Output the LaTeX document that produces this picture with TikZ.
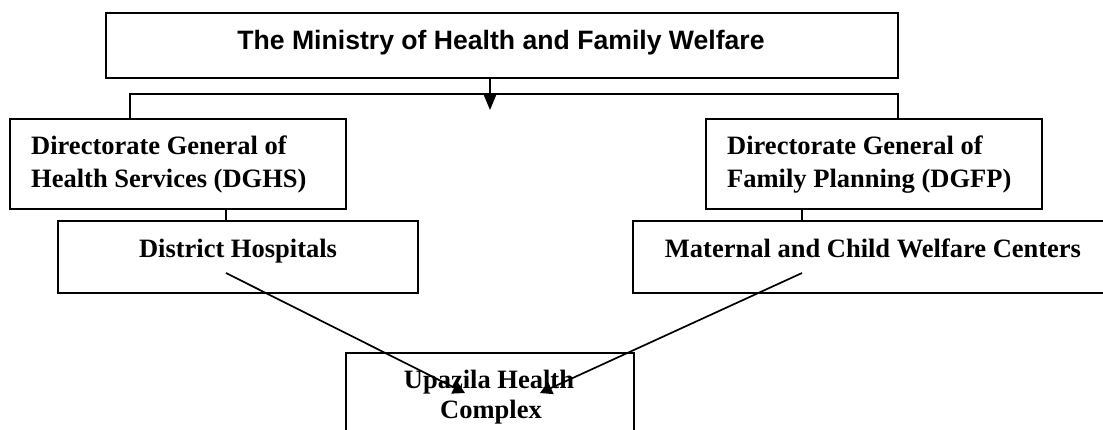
\documentclass[tikz,border=0pt]{standalone}
\usepackage{fontspec}
\setmainfont{Liberation Serif}
\newfontfamily\arialfont{Liberation Sans}
\usetikzlibrary{arrows.meta}
\tikzset{
  box/.style={draw=black, line width=1.7pt, rectangle, inner sep=0pt, outer sep=0pt, fill=white},
  conn/.style={draw=black, line width=1.7pt},
  arr/.style={conn, -{Triangle[width=12pt,length=15pt]}},
  arrd/.style={conn, -{Triangle[width=13pt,length=12pt]}},
  titletxt/.style={inner sep=0pt, font=\arialfont\bfseries\fontsize{26.6}{30}\selectfont},
  txt/.style={inner sep=0pt, font=\bfseries\fontsize{26.5}{32}\selectfont}
}
\begin{document}
\begin{tikzpicture}[x=1pt, y=-1pt]
\useasboundingbox (0,0) rectangle (1103,429);
\clip (0,0) rectangle (1103,429);
\fill[white] (0,0) rectangle (1103,429);
% boxes
\node[box, minimum width=792pt, minimum height=65pt] (ministry) at (502,45.5) {};
\node[box, minimum width=336pt, minimum height=90pt] (dghs) at (178,164) {};
\node[box, minimum width=336pt, minimum height=90pt] (dgfp) at (874,164) {};
\node[box, minimum width=360pt, minimum height=72pt] (dh) at (238,257) {};
\node[box, minimum width=480pt, minimum height=72pt] (mcwc) at (873,257) {};
\node[box, minimum width=288pt, minimum height=97pt] (uhc) at (490,401.5) {};
% connector coordinates
\coordinate (barL) at (130,94);
\coordinate (barR) at (898,94);
\coordinate (tip) at (490,110);
\coordinate (dhs) at (226,273);
\coordinate (mcs) at (802,273);
\coordinate (uhcL) at (465,393);
\coordinate (uhcR) at (540,393);
% connectors
\draw[conn] (barL |- dghs.north) -- (barL) -- (barR) -- (barR |- dgfp.north);
\draw[arr] (ministry.south -| tip) -- (tip);
\draw[conn] (dghs.south -| dhs) -- (dh.north -| dhs);
\draw[conn] (dgfp.south -| mcs) -- (mcwc.north -| mcs);
% texts
\node[titletxt, anchor=base] (ttitle) at (501,49) {The Ministry of Health and Family Welfare};
\node[txt, anchor=base west] (tdghs1) at (31,154) {Directorate General of};
\node[txt, anchor=base west] (tdghs2) at (31,187) {Health Services (DGHS)};
\node[txt, anchor=base west] (tdgfp1) at (727,154) {Directorate General of};
\node[txt, anchor=base west] (tdgfp2) at (727,187) {Family Planning (DGFP)};
\node[txt, anchor=base] (tdh) at (238,257) {District Hospitals};
\node[txt, anchor=base] (tmcwc) at (873,257) {Maternal and Child Welfare Centers};
\node[txt, anchor=base] (tuhc1) at (489,388) {Upazila Health};
\node[txt, anchor=base] (tuhc2) at (491,418) {Complex};
% diagonal arrows
\draw[arrd] (dhs) -- (uhcL);
\draw[arrd] (mcs) -- (uhcR);
\end{tikzpicture}
\end{document}
